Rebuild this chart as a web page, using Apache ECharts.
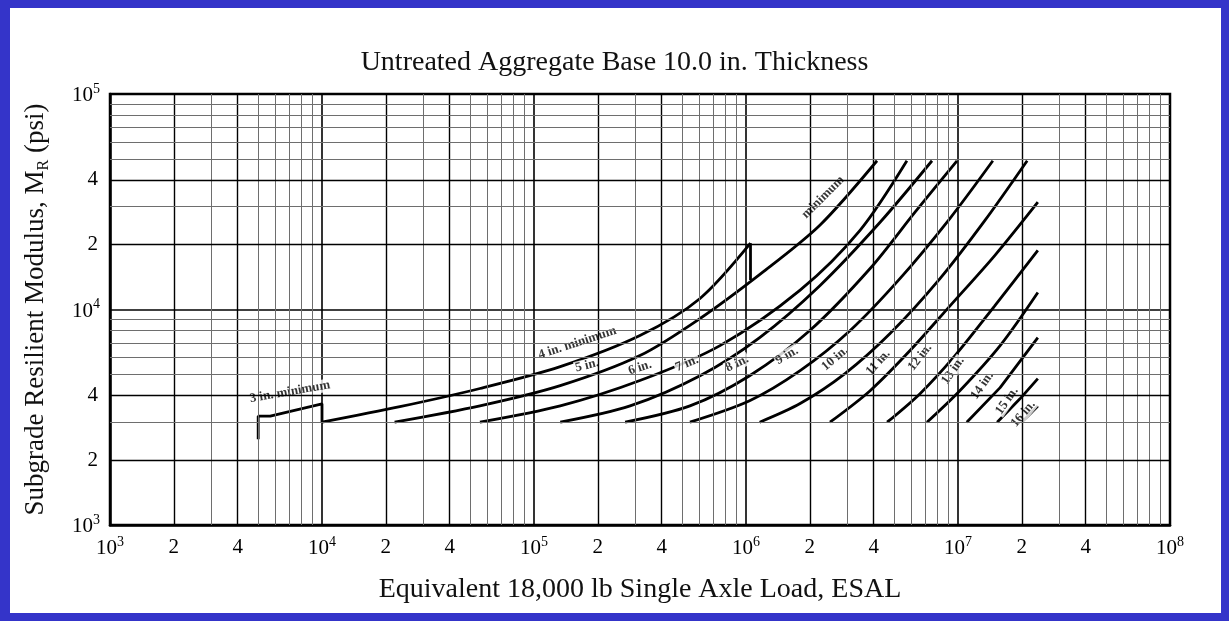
<!DOCTYPE html>
<html><head><meta charset="utf-8">
<script src="https://cdn.jsdelivr.net/npm/echarts@6/dist/echarts.min.js"></script>
<style>
html,body{margin:0;padding:0;background:#fff;overflow:hidden;}
#c{position:absolute;left:0;top:0;width:1229px;height:621px;}
#frame{position:absolute;left:0;top:0;width:1229px;height:621px;box-sizing:border-box;border-style:solid;border-color:#3434c9;border-width:8px 8px 8px 10px;pointer-events:none;}
</style></head><body>
<div id="c"></div><div id="frame"></div>
<script>
// ---- data (ESAL, subgrade resilient modulus psi) ----
const titleText = 'Untreated Aggregate Base 10.0 in. Thickness';
const xName = 'Equivalent 18,000 lb Single Axle Load, ESAL';
const xLabeledMinor = [2e3, 4e3, 2e4, 4e4, 2e5, 4e5, 2e6, 4e6, 2e7, 4e7];
const yLabeledMinor = [2e3, 4e3, 2e4, 4e4];
const minorMultipliers = [2, 3, 4, 5, 6, 7, 8, 9];
const xDecades = [1e3, 1e4, 1e5, 1e6, 1e7];
const yDecades = [1e3, 1e4];

const curve3in  = [[5000, 2500], [5000, 3200], [5700, 3200], [10000, 3650], [10000, 3000]];
const curve4in  = [[1e4, 3000], [2.33e4, 3540], [5.56e4, 4300], [1.33e5, 5430], [3.16e5, 7570], [6.07e5, 11250], [1.05e6, 20300]];
const drop4in   = [[1.05e6, 20300], [1.05e6, 13700]];
const curve5in  = [[2.2e4, 3000], [5.56e4, 3570], [1.33e5, 4430], [3.16e5, 6110], [6.07e5, 9080], [1.2e6, 14900], [2.23e6, 24600], [4.15e6, 49000]];
const curve6in  = [[5.56e4, 3000], [1.33e5, 3570], [3.16e5, 4680], [7.54e5, 6800], [1.8e6, 12300], [3.45e6, 23300], [5.74e6, 49000]];
const curve7in  = [[1.33e5, 3000], [2.84e5, 3570], [6.07e5, 4930], [1.16e6, 7410], [2.23e6, 12900], [4.29e6, 25400], [7.54e6, 49000]];
const curve8in  = [[2.69e5, 3000], [5.44e5, 3570], [1.04e6, 4930], [2.0e6, 7990], [3.85e6, 15500], [6.27e6, 28300], [9.89e6, 49000]];
const curve9in  = [[5.44e5, 3000], [1.04e6, 3770], [1.8e6, 5200], [3.1e6, 7990], [5.32e6, 13900], [9.17e6, 26500], [1.46e7, 49000]];
const curve10in = [[1.16e6, 3000], [1.8e6, 3660], [2.93e6, 5040], [4.78e6, 7730], [8.22e6, 13900], [1.34e7, 25900], [2.12e7, 49000]];
const curve11in = [[2.49e6, 3000], [3.85e6, 4200], [5.94e6, 6450], [9.17e6, 10400], [1.49e7, 17800], [2.38e7, 31500]];
const curve12in = [[4.63e6, 3000], [6.62e6, 4070], [9.68e6, 6110], [1.49e7, 10400], [2.38e7, 18800]];
const curve13in = [[7.14e6, 3000], [1.02e7, 4200], [1.58e7, 6800], [2.38e7, 12000]];
const curve14in = [[1.1e7, 3000], [1.58e7, 4340], [2.38e7, 7410]];
const curve15in = [[1.53e7, 3000], [1.96e7, 3850], [2.38e7, 4780]];
const curve16in = [[2.0e7, 3000], [2.38e7, 3570]];

const curveLabels = [
  ['3 in. minimum', 7060, 4150],
  ['4 in. minimum', 1.6e5, 7000],
  ['5 in.', 1.78e5, 5500],
  ['6 in.', 3.16e5, 5370],
  ['7 in.', 5.27e5, 5610],
  ['8 in.', 9.08e5, 5610],
  ['9 in.', 1.56e6, 6110],
  ['minimum', 2.31e6, 33200],
  ['10 in.', 2.63e6, 5920],
  ['11 in.', 4.2e6, 5670],
  ['12 in.', 6.62e6, 6000],
  ['13 in.', 9.46e6, 5200],
  ['14 in.', 1.3e7, 4430],
  ['15 in.', 1.7e7, 3770],
  ['16 in.', 2.03e7, 3280]
];
const labelAngles = [10, 18, 14, 18, 22, 26, 30, 45, 40, 48, 52, 55, 55, 55, 50];

// ---- styling / option ----
const SERIF = '"Liberation Serif", "DejaVu Serif", serif';
const fmtPow = v => '{b|10}{s|' + Math.round(Math.log10(v)) + '}';
const powRich = {
  b: {fontFamily: SERIF, fontSize: 21, color: '#000', lineHeight: 24, verticalAlign: 'bottom'},
  s: {fontFamily: SERIF, fontSize: 14, color: '#000', lineHeight: 24, verticalAlign: 'top'}
};
const curveStyle = {color: '#000', width: 2.8};
const curves = [curve3in, curve4in, drop4in, curve5in, curve6in, curve7in, curve8in, curve9in,
                curve10in, curve11in, curve12in, curve13in, curve14in, curve15in, curve16in];
const smoothFlags = [false, 0.3, false, 0.3, 0.3, 0.3, 0.3, 0.3, 0.3, 0.3, 0.3, 0.3, false, false, false];

function minorLines(decades, axisKey, labeled) {
  const out = [];
  decades.forEach(d => minorMultipliers.forEach(m => {
    const v = d * m;
    const isLab = labeled.some(l => Math.abs(l - v) < 1e-6 * v);
    out.push({
      [axisKey]: v,
      lineStyle: {color: isLab ? '#000' : '#6e6e6e', width: isLab ? 1.4 : 1, type: 'solid'},
      label: {show: isLab, formatter: String(m)}
    });
  }));
  return out;
}

const tickLabelStyle = {position: 'start', distance: 12, fontFamily: SERIF, fontSize: 21, color: '#000'};
const series = [];
series.push({
  type: 'line', name: 'xgrid', data: [[1e3, 1e3]], showSymbol: false, silent: true, z: 1,
  lineStyle: {opacity: 0},
  markLine: {silent: true, symbol: ['none', 'none'], animation: false, label: tickLabelStyle,
    data: minorLines(xDecades, 'xAxis', xLabeledMinor)}
});
series.push({
  type: 'line', name: 'ygrid', data: [[1e3, 1e3]], showSymbol: false, silent: true, z: 1,
  lineStyle: {opacity: 0},
  markLine: {silent: true, symbol: ['none', 'none'], animation: false, label: tickLabelStyle,
    data: minorLines(yDecades, 'yAxis', yLabeledMinor)}
});
curves.forEach((c, i) => series.push({
  type: 'line', data: c, showSymbol: false, smooth: smoothFlags[i], z: 3,
  lineStyle: curveStyle, silent: true
}));
series.push({
  type: 'scatter', z: 4, symbolSize: 0, silent: true,
  data: curveLabels.map((l, i) => ({
    name: l[0], value: [l[1], l[2]],
    label: {rotate: labelAngles[i]}
  })),
  label: {show: true, position: 'inside', formatter: '{b}', fontFamily: SERIF, fontSize: 13,
          fontWeight: 'bold', color: '#000', backgroundColor: '#fff', padding: [0, 1]}
});

const chart = echarts.init(document.getElementById('c'), null, {renderer: 'canvas'});
chart.setOption({
  animation: false,
  backgroundColor: '#fff',
  title: {
    text: titleText, left: 'center', top: 44,
    textStyle: {fontFamily: SERIF, fontSize: 28, fontWeight: 'normal', color: '#111'}
  },
  grid: {left: 110, right: 59, top: 94, bottom: 96, show: true, borderColor: '#000', borderWidth: 2.5, backgroundColor: 'transparent'},
  xAxis: {
    type: 'log', logBase: 10, min: 1e3, max: 1e8,
    name: xName, nameLocation: 'middle', nameGap: 51,
    nameTextStyle: {fontFamily: SERIF, fontSize: 28, color: '#111'},
    axisLine: {lineStyle: {color: '#000', width: 2.5}},
    axisTick: {show: false},
    axisLabel: {formatter: fmtPow, rich: powRich, margin: 10},
    splitLine: {show: true, lineStyle: {color: '#000', width: 1.6}}
  },
  yAxis: {
    type: 'log', logBase: 10, min: 1e3, max: 1e5,
    name: '{a|Subgrade Resilient Modulus, M}{r|R}{a| (psi)}',
    nameLocation: 'middle', nameGap: 58, nameRotate: 90,
    nameTextStyle: {
      rich: {
        a: {fontFamily: SERIF, fontSize: 27, color: '#111', lineHeight: 30, verticalAlign: 'top'},
        r: {fontFamily: SERIF, fontSize: 16, color: '#111', lineHeight: 30, verticalAlign: 'bottom'}
      }
    },
    axisLine: {lineStyle: {color: '#000', width: 2.5}},
    axisTick: {show: false},
    axisLabel: {formatter: fmtPow, rich: powRich, margin: 10},
    splitLine: {show: true, lineStyle: {color: '#000', width: 1.6}}
  },
  series: series
});
</script>
</body></html>
